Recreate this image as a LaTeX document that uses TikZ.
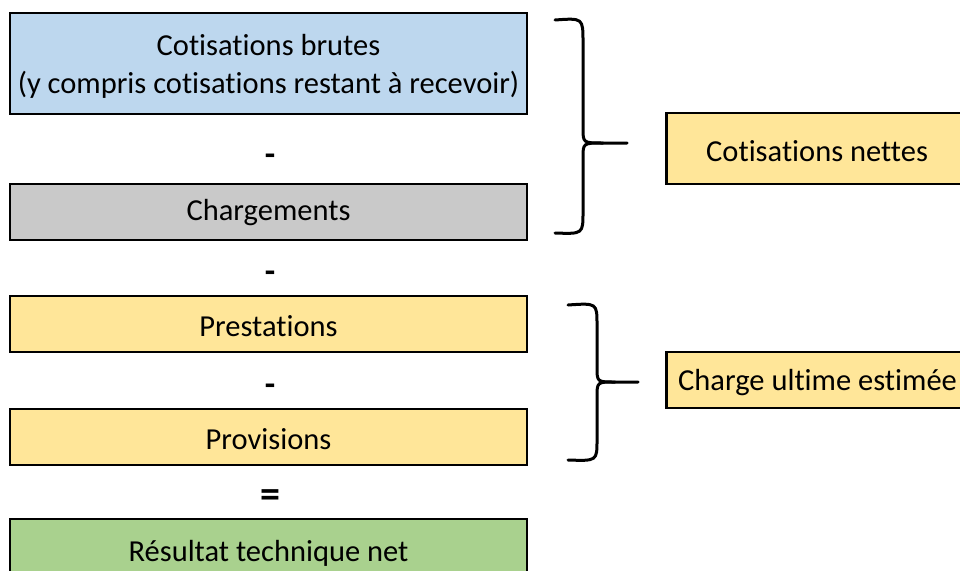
\documentclass[tikz,border=0pt]{standalone}
\usepackage{fontspec}
\setmainfont[Ligatures={NoCommon}]{Carlito}
\definecolor{cblue}{HTML}{BDD7EE}
\definecolor{cgray}{HTML}{C9C9C9}
\definecolor{cyel}{HTML}{FFE699}
\definecolor{cgreen}{HTML}{A9D18E}
\begin{document}
\begin{tikzpicture}[x=1pt,y=-1pt,
  box/.style={draw=black,line width=2.5pt,inner sep=0pt,minimum width=517pt},
  lbl/.style={font=\fontsize{30.5}{38}\selectfont,inner sep=0pt,align=center},
  op/.style={font=\fontsize{34}{34}\selectfont\bfseries,inner sep=0pt},
  brace/.style={line width=3pt,line cap=round}]
\useasboundingbox (0,0) rectangle (960,570);
\clip (0,0) rectangle (960,570);
\node[box,fill=cblue,minimum height=101pt] (cb) at (268.5,63.5) {};
\node[lbl] (cbl) at (268.5,66) {Cotisations brutes\\(y compris cotisations restant à recevoir)};
\node[op] (m1) at (270,160) {-};
\node[box,fill=cgray,minimum height=56pt] (ch) at (268.5,212) {};
\node[lbl] (chl) at (268.5,213) {Chargements};
\node[op] (m2) at (270,277) {-};
\node[box,fill=cyel,minimum height=56pt] (pr) at (268.5,324) {};
\node[lbl] (prl) at (268.5,326) {Prestations};
\node[op] (m3) at (270,390) {-};
\node[box,fill=cyel,minimum height=56pt] (pv) at (268.5,437) {};
\node[lbl] (pvl) at (268.5,439) {Provisions};
\node[op,font=\fontsize{40}{40}\selectfont\bfseries] (eq) at (270,499) {=};
\node[box,fill=cgreen,minimum height=70pt] (rt) at (268.5,554) {};
\node[lbl] (rtl) at (268.5,553) {Résultat technique net};
\node[box,fill=cyel,minimum width=310pt,minimum height=71pt,anchor=west] (cn) at (665,148.5) {};
\node[lbl,anchor=west] (cnl) at (706,151) {Cotisations nettes};
\node[box,fill=cyel,minimum width=310pt,minimum height=56pt,anchor=west] (cu) at (665,380) {};
\node[lbl,anchor=west] (cul) at (678,383) {Charge ultime estimée};
% brace 1
\coordinate (b1t) at (555,20);
\coordinate (b1m) at (627,143);
\coordinate (b1b) at (555,233);
\draw[brace] (b1t) .. controls (583,18) .. (583,42) -- (583,128) .. controls (583,143) .. (603,143) -- (b1m);
\draw[brace] (603,143) .. controls (583,143) .. (583,158) -- (583,212) .. controls (583,234) .. (b1b);
% brace 2
\coordinate (b2t) at (568,305);
\coordinate (b2m) at (638,382);
\coordinate (b2b) at (568,460);
\draw[brace] (b2t) .. controls (597,303) .. (597,325) -- (597,367) .. controls (597,382) .. (615,382) -- (b2m);
\draw[brace] (615,382) .. controls (597,382) .. (597,397) -- (597,440) .. controls (597,461) .. (b2b);
\end{tikzpicture}
\end{document}
